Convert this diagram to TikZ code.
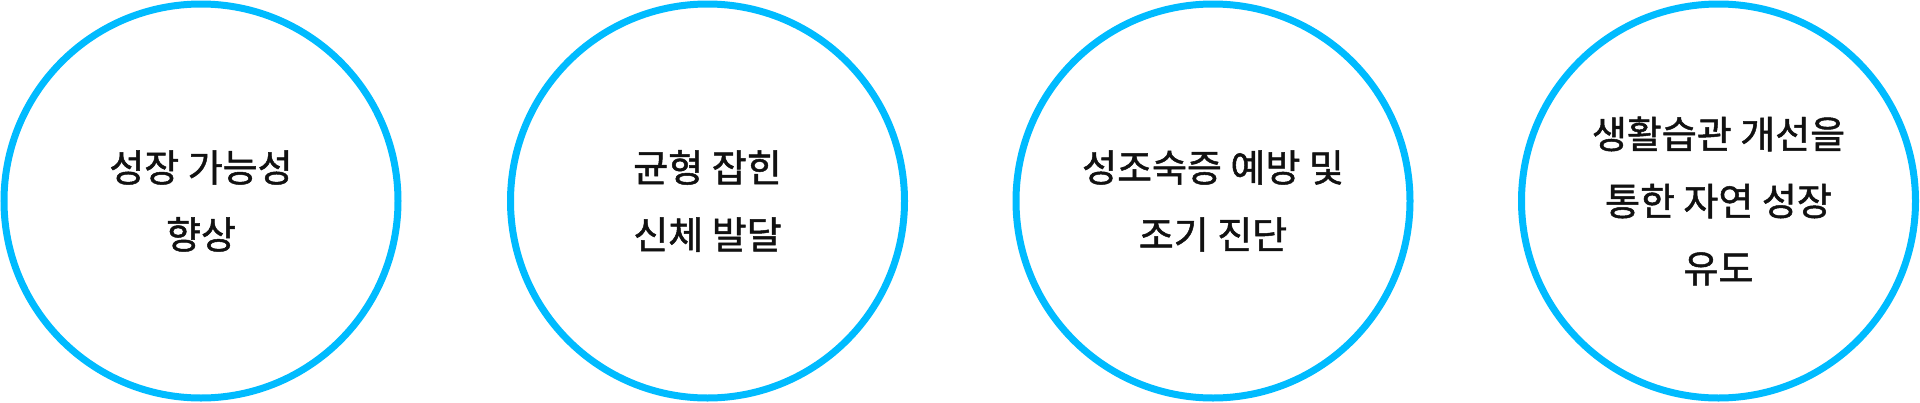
\documentclass[tikz,border=0pt]{standalone}
\usepackage{fontspec}
\newfontfamily\kr[FakeBold=1.3]{Noto Sans CJK KR}
\definecolor{ringblue}{RGB}{0,187,255}
\definecolor{txt}{RGB}{17,17,17}
\tikzset{
  ring/.style={circle, draw=ringblue, line width=7pt, minimum size=394pt, inner sep=0pt, fill=white},
  label/.style={align=center, text=txt, font=\kr\fontsize{38pt}{67pt}\selectfont}
}
\begin{document}
\begin{tikzpicture}[x=1pt,y=1pt]
\useasboundingbox (0,0) rectangle (1920,-402);
\node[ring] (c1) at (201,-201) {};
\node[ring] (c2) at (707.5,-201) {};
\node[ring] (c3) at (1213,-201) {};
\node[ring] (c4) at (1718.5,-201) {};
\node[label] (t1) at (c1.center) {성장 가능성\\향상};
\node[label] (t2) at (c2.center) {균형 잡힌\\신체 발달};
\node[label] (t3) at (c3.center) {성조숙증 예방 및\\조기 진단};
\node[label] (t4) at (c4.center) {생활습관 개선을\\통한 자연 성장\\유도};
\end{tikzpicture}
\end{document}
